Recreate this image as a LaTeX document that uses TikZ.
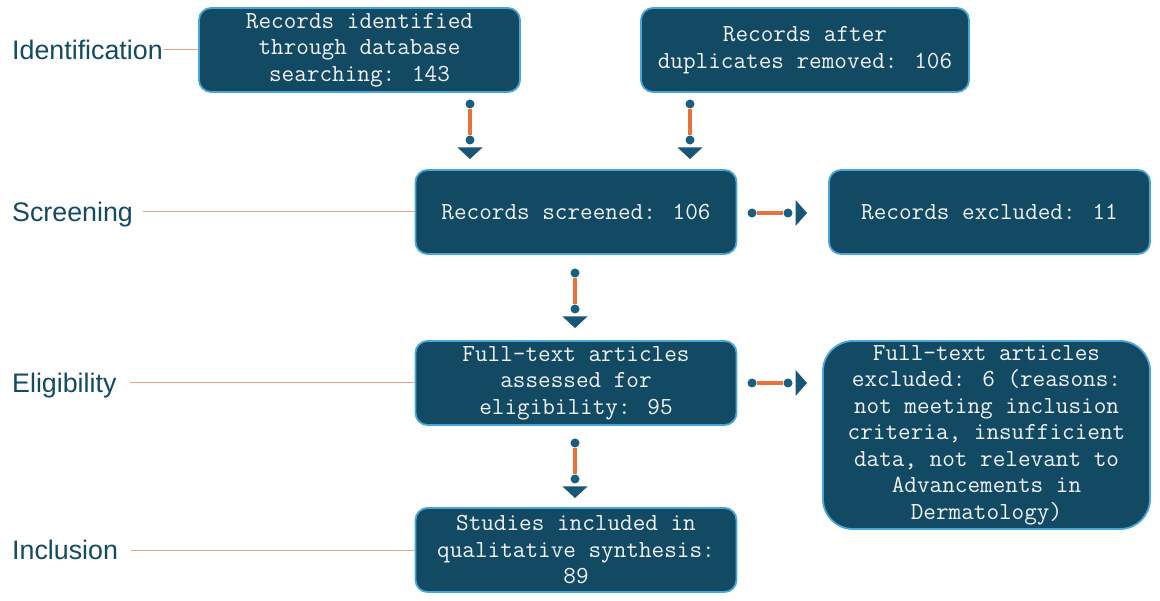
\documentclass[tikz,border=0pt]{standalone}
\usepackage{fontspec}
\newfontfamily\labelfont{Liberation Sans}
\definecolor{boxfill}{HTML}{124A64}
\definecolor{boxline}{HTML}{4BA6D8}
\definecolor{boxtext}{HTML}{F2F2F2}
\definecolor{lbltext}{HTML}{134A63}
\definecolor{dotc}{HTML}{1A5F82}
\definecolor{orangec}{HTML}{E8733A}
\definecolor{peach}{HTML}{EAA585}
\begin{document}
\begin{tikzpicture}[x=1pt,y=-1pt,
  box/.style={draw=boxline, line width=1.8pt, fill=boxfill, rounded corners=12pt,
    text=boxtext, align=center, inner sep=0pt,
    font=\ttfamily\fontsize{24.5}{26.5}\selectfont, minimum width=321pt, minimum height=84pt},
  lbl/.style={text=lbltext, font=\labelfont\fontsize{26.8}{30}\selectfont, anchor=west,
    inner sep=0pt, text height=19pt, text depth=0pt},
  lblline/.style={draw=peach, line width=1pt},
  oline/.style={draw=orangec, line width=3.4pt, shorten <=5pt, shorten >=5pt},
  dotfill/.style={fill=dotc},
  trifill/.style={fill=dotc!90!black}
]
\useasboundingbox (0,0) rectangle (1160,601);

% boxes
\node[box] (A) at (359.5,50) {Records identified\\through database\\searching: 143};
\node[box, minimum width=328pt] (B) at (805,50) {Records after\\duplicates removed: 106};
\node[box] (C) at (576,212) {Records screened: 106};
\node[box] (D) at (989.5,212) {Records excluded: 11};
\node[box] (E) at (576,383) {Full-text articles\\assessed for\\eligibility: 95};
\node[box, rounded corners=30pt, minimum width=327pt, minimum height=188pt] (F) at (986.5,435)
  {Full-text articles\\excluded: 6 (reasons:\\not meeting inclusion\\criteria, insufficient\\data, not relevant to\\Advancements in\\Dermatology)};
\node[box] (G) at (576,550) {Studies included in\\qualitative synthesis:\\89};

% stage labels
\node[lbl] (L1) at (12,50) {Identification};
\node[lbl] (L2) at (12,212) {Screening};
\node[lbl] (L3) at (12,383) {Eligibility};
\node[lbl] (L4) at (12,550) {Inclusion};
\draw[lblline] (L1.east) -- (A.west);
\draw[lblline] ([xshift=10pt]L2.east) -- (C.west);
\draw[lblline] ([xshift=13pt]L3.east) -- (E.west);
\draw[lblline] ([xshift=13pt]L4.east) -- (G.west);

% vertical connectors
\foreach \n/\x/\y in {ac/470/104, bc/690/104, ce/575/273, eg/575/443}{
  \coordinate (\n1) at (\x,\y);
  \coordinate (\n2) at (\x,\y+36);
  \draw[oline] (\n1) -- (\n2);
  \fill[dotfill] (\n1) circle (4.5pt) (\n2) circle (4.5pt);
  \fill[trifill] ([xshift=-12.5pt,yshift=-7.5pt]\n2) -- ([xshift=12.5pt,yshift=-7.5pt]\n2)
     -- ([yshift=-19pt]\n2) -- cycle;
}
% horizontal connectors
\foreach \n/\x/\y in {cd/752/213, ef/752/383}{
  \coordinate (\n1) at (\x,\y);
  \coordinate (\n2) at (\x+36,\y);
  \draw[oline] (\n1) -- (\n2);
  \fill[dotfill] (\n1) circle (4.5pt) (\n2) circle (4.5pt);
  \fill[trifill] ([xshift=7.5pt,yshift=13pt]\n2) -- ([xshift=7.5pt,yshift=-13pt]\n2)
     -- ([xshift=19pt]\n2) -- cycle;
}
\end{tikzpicture}
\end{document}
